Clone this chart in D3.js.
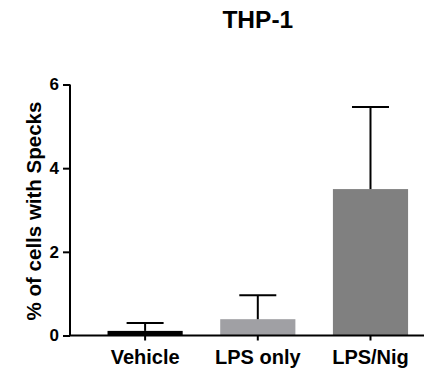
<!DOCTYPE html>
<html><head><meta charset="utf-8">
<script src="https://cdn.jsdelivr.net/npm/d3@7"></script>
<style>body{margin:0;background:#fff}svg{display:block}</style>
</head><body>
<script>
const categories = ["Vehicle", "LPS only", "LPS/Nig"];
const means = [0.11, 0.39, 3.50];
const errUpper = [0.30, 0.96, 5.46];
const barColors = ["#000000", "#a0a0a4", "#808080"];
const yTicks = [0, 2, 4, 6];
const title = "THP-1";
const yLabel = "% of cells with Specks";

const W = 424, H = 372;
const svg = d3.select("body").append("svg").attr("width", W).attr("height", H);
const font = "'Liberation Sans', Arial, sans-serif";

const x = d3.scaleBand().domain(categories).range([70, 445.6]).padding(0.333);
const y = d3.scaleLinear().domain([0, 6]).range([335.5, 84.5]);

// bars
svg.selectAll("rect.bar").data(categories).join("rect")
  .attr("x", d => x(d)).attr("width", x.bandwidth())
  .attr("y", (d, i) => y(means[i])).attr("height", (d, i) => y(0) - y(means[i]))
  .attr("fill", (d, i) => barColors[i]);

// error bars
const capW = 37;
const eb = svg.append("g").attr("stroke", "#000").attr("stroke-width", 2);
categories.forEach((c, i) => {
  const cx = x(c) + x.bandwidth() / 2;
  eb.append("line").attr("x1", cx).attr("x2", cx).attr("y1", y(means[i])).attr("y2", y(errUpper[i]));
  eb.append("line").attr("x1", cx - capW / 2).attr("x2", cx + capW / 2).attr("y1", y(errUpper[i])).attr("y2", y(errUpper[i]));
});

// y axis
const yAxis = svg.append("g").attr("transform", "translate(70,0)")
  .call(d3.axisLeft(y).tickValues(yTicks).tickSize(7).tickPadding(4).tickFormat(d3.format("d")));
yAxis.select(".domain").attr("stroke-width", 2).attr("d", `M0,${y(6)}V${y(0)}`);
yAxis.selectAll(".tick line").attr("stroke-width", 2);
yAxis.selectAll("text").attr("font-family", font).attr("font-weight", "bold").attr("font-size", 17).attr("fill", "#000");

// x axis
const xAxis = svg.append("g").attr("transform", `translate(0,${y(0)})`)
  .call(d3.axisBottom(x).tickSize(5).tickPadding(5));
xAxis.select(".domain").attr("stroke-width", 2).attr("d", `M69,0H445`);
xAxis.selectAll(".tick line").attr("stroke-width", 2);
xAxis.selectAll("text").attr("font-family", font).attr("font-weight", "bold").attr("font-size", 20)
  .attr("fill", "#000").attr("y", 28).attr("dy", 0);

// y label
svg.append("text").attr("transform", `translate(40.5,211) rotate(-90)`)
  .attr("text-anchor", "middle").attr("font-family", font).attr("font-weight", "bold").attr("font-size", 20.5)
  .text(yLabel);

// title
svg.append("text").attr("x", 257.8).attr("y", 27.5).attr("text-anchor", "middle")
  .attr("font-family", font).attr("font-weight", "bold").attr("font-size", 24.5).text(title);
</script>
</body></html>
